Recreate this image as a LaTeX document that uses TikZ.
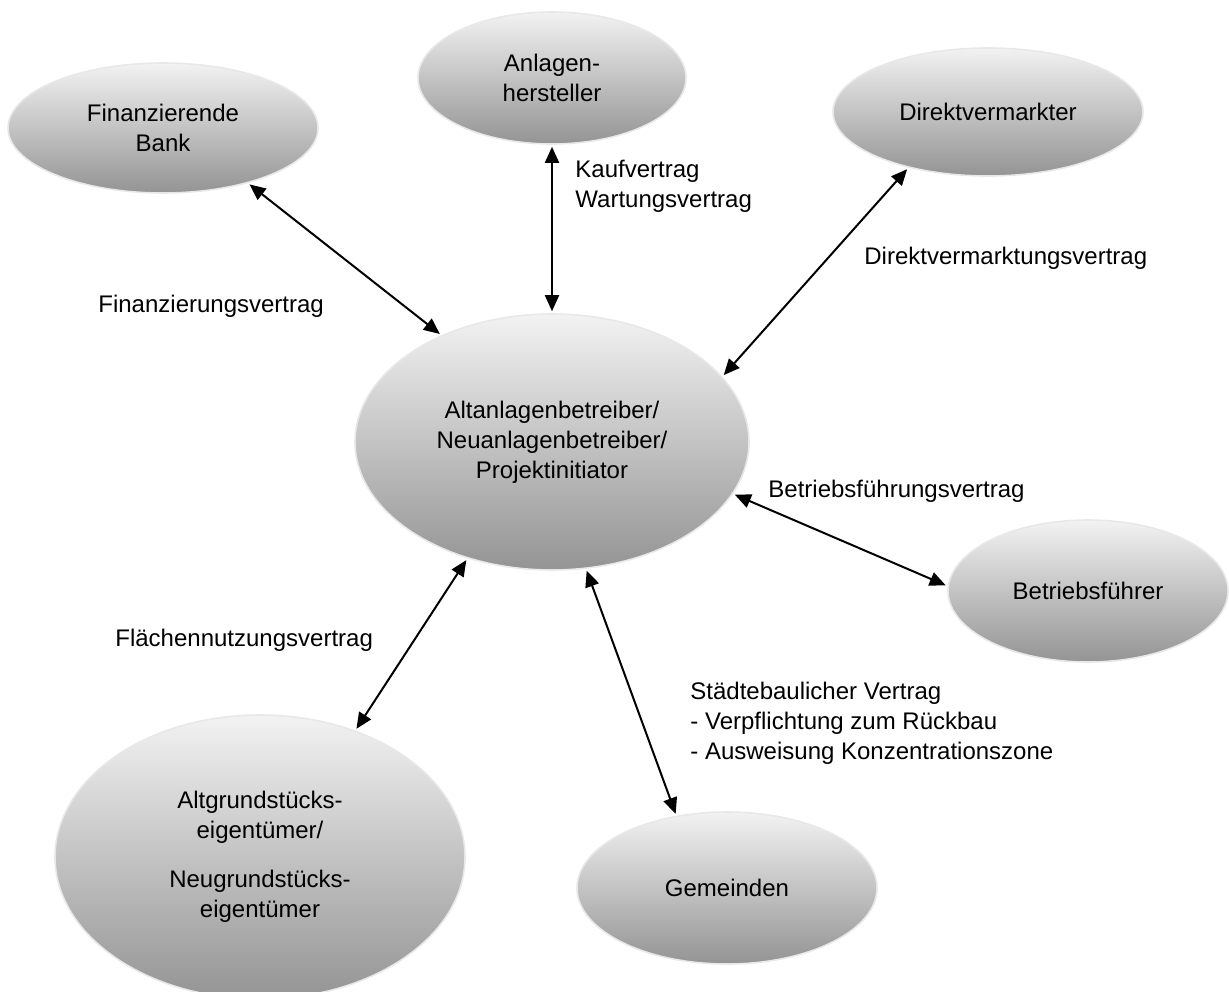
\documentclass[tikz,border=0pt]{standalone}
\usepackage{fontspec}
\setmainfont{Liberation Sans}
\usepackage{tikz}
\usetikzlibrary{shapes.geometric,arrows.meta}
\newcommand{\vfont}{\fontsize{12}{15}\selectfont}
\tikzset{partner/.style={ellipse, draw=black!9, line width=0.8pt,
            top color=black!5, bottom color=black!42,
            align=center, inner sep=0pt, font=\vfont},
         vertrag/.style={anchor=west, align=left, inner sep=0pt, font=\vfont},
         pfeil/.style={{Triangle[length=8pt,width=7pt]}-{Triangle[length=8pt,width=7pt]},
            line width=1pt, shorten <=1pt, shorten >=1pt}}

\begin{document}
\begin{tikzpicture}[x=0.5pt,y=-0.5pt]

	\useasboundingbox (0,0) rectangle (1229,991);

	\node[partner, minimum width=310pt*0.5, minimum height=130pt*0.5] (bank) at (163,128) {Finanzierende\\Bank};
	\node[partner, minimum width=268pt*0.5, minimum height=132pt*0.5] (anlagen) at (552,78) {Anlagen-\\hersteller};
	\node[partner, minimum width=310pt*0.5, minimum height=128pt*0.5] (direkt) at (988,112) {Direktvermarkter};
	\node[partner, minimum width=394pt*0.5, minimum height=256pt*0.5] (zentral) at (552,442) {Altanlagenbetreiber/\\Neuanlagenbetreiber/\\Projektinitiator};
	\node[partner, minimum width=280pt*0.5, minimum height=142pt*0.5] (betrieb) at (1088,591) {Betriebsführer};
	\node[partner, minimum width=300pt*0.5, minimum height=152pt*0.5] (gemeinden) at (727,888) {Gemeinden};
	\node[partner, minimum width=410pt*0.5, minimum height=284pt*0.5] (grund) at (260,857) {Altgrundstücks-\\eigentümer/\\[0.8em]Neugrundstücks-\\eigentümer};

	\draw[pfeil] (bank.-33) -- (zentral.136);
	\draw[pfeil] (anlagen.south) -- (zentral.north);
	\draw[pfeil] (direkt.-145) -- (zentral.21);
	\draw[pfeil] (zentral.-16) -- (betrieb.178);
	\draw[pfeil] (zentral.234) -- (grund.53);
	\draw[pfeil] (zentral.-75) -- (gemeinden.125);

	\node[vertrag] (kauf) at (575,186) {Kaufvertrag\\Wartungsvertrag};
	\node[vertrag] (finanz) at (98,306) {Finanzierungsvertrag};
	\node[vertrag] (dvv) at (864,258) {Direktvermarktungsvertrag};
	\node[vertrag] (bfv) at (768,491) {Betriebsführungsvertrag};
	\node[vertrag] (fnv) at (115,640) {Flächennutzungsvertrag};
	\node[vertrag] (staedte) at (690,723) {Städtebaulicher Vertrag\\- Verpflichtung zum Rückbau\\- Ausweisung Konzentrationszone};

\end{tikzpicture}
\end{document}
